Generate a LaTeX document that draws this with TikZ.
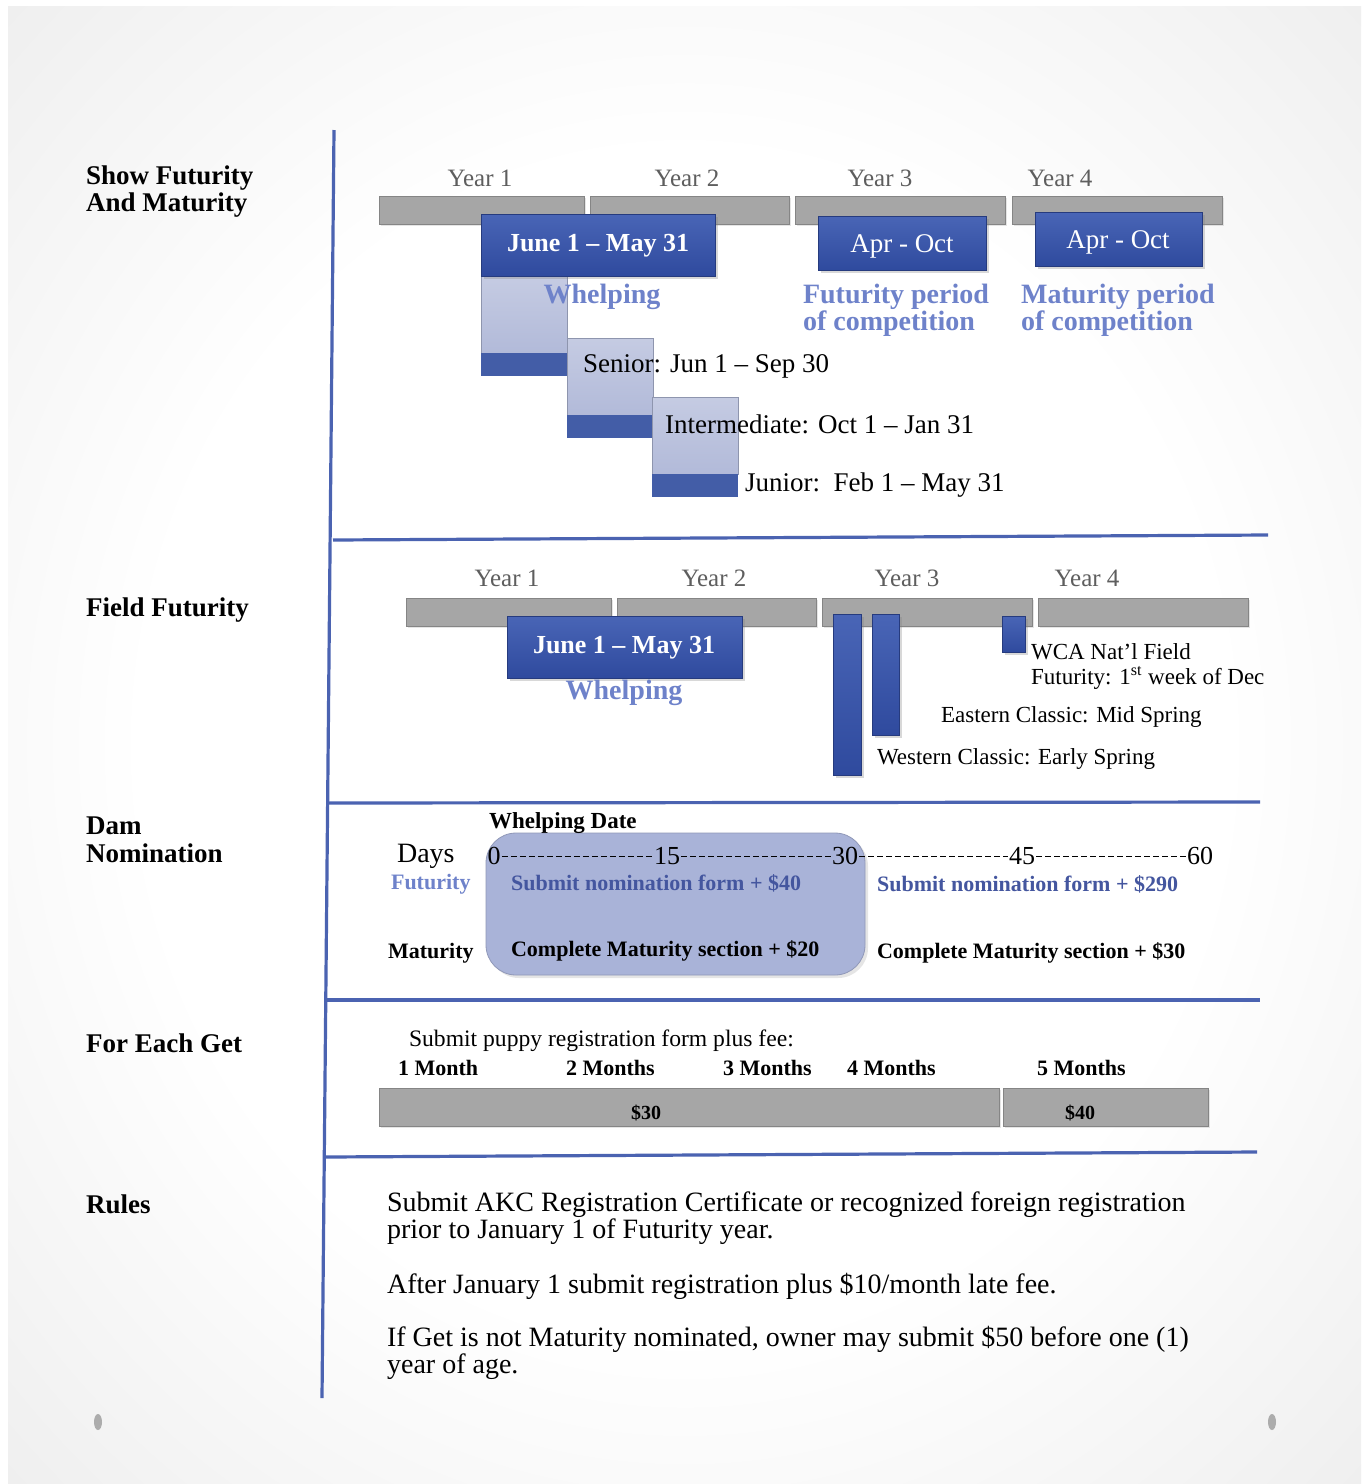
\documentclass[tikz,border=0pt]{standalone}
\usepackage{fontspec}
\setmainfont{Liberation Serif}
\usetikzlibrary{positioning,shadows}

\definecolor{pagegray}{HTML}{D6D6D6}
\definecolor{bargray}{HTML}{A6A6A6}
\definecolor{boxtop}{HTML}{4965B6}
\definecolor{boxbot}{HTML}{2F4A9E}
\definecolor{paleblue}{HTML}{B2BAD9}
\definecolor{lineblue}{HTML}{4B63B1}
\definecolor{textblue}{HTML}{6E82CA}
\definecolor{navytext}{HTML}{44569F}
\definecolor{yeargray}{HTML}{5E5E5E}
\definecolor{nomfill}{HTML}{A9B3D8}

\pgfdeclareradialshading{vignette}{\pgfpoint{0bp}{0bp}}{color(0bp)=(white); color(20bp)=(white); color(42bp)=(gray!18); color(50bp)=(gray!27); color(72bp)=(gray!38)}

\tikzset{
  yearbar/.style={fill=bargray, draw=bargray!80!black, line width=0.3pt,
    drop shadow={opacity=0.2, shadow xshift=1pt, shadow yshift=-1pt}},
  bluebox/.style={top color=boxtop, bottom color=boxbot, draw=boxbot!80!black, line width=0.3pt,
    drop shadow={opacity=0.3, shadow xshift=1.5pt, shadow yshift=-1.5pt}},
  paleblock/.style={top color=paleblue!75!white, bottom color=paleblue, draw=paleblue!80!black, line width=0.3pt},
  darkstrip/.style={fill=boxtop!92!black},
  sepline/.style={lineblue, line width=1.6pt},
  sidelbl/.style={anchor=west, align=left, font=\fontsize{13.5}{13.8}\selectfont\bfseries},
  yearlbl/.style={text=yeargray, font=\fontsize{12.5}{15}\selectfont},
  boxlbl/.style={text=white, font=\fontsize{13}{15}\selectfont\bfseries},
  periodlbl/.style={anchor=west, align=left, text=textblue, font=\fontsize{14}{13.5}\selectfont\bfseries},
  agelbl/.style={anchor=west, font=\fontsize{13.5}{15}\selectfont},
  eventlbl/.style={anchor=west, align=left, font=\fontsize{11.5}{12.5}\selectfont},
  daylbl/.style={inner sep=0.5pt, font=\fontsize{13}{15}\selectfont},
  daysline/.style={dash pattern=on 3pt off 1.5pt, line width=0.5pt},
  feelbl/.style={anchor=west, font=\fontsize{11}{12}\selectfont\bfseries},
  monthlbl/.style={anchor=west, font=\fontsize{11}{13}\selectfont\bfseries},
  rulelbl/.style={anchor=west, align=left, font=\fontsize{14}{13.5}\selectfont}
}

\begin{document}
\begin{tikzpicture}[x=0.5pt, y=-0.5pt]
    \useasboundingbox (0,0) rectangle (1369,1484);
    % page
    \fill[white] (0,0) rectangle (1369,1484);
    \shade[shading=vignette] (8,6) rectangle (1361,1484);
    \fill[gray!65] (98,1422) ellipse (4 and 8);
    \fill[gray!65] (1272,1422) ellipse (4 and 8);

    % frame lines
    \draw[sepline] (334,130) -- (322,1398);
    \draw[sepline] (333,540) -- (1268,535);
    \draw[sepline] (328,803) -- (1260,802);
    \draw[sepline] (327,1000) -- (1260,1000);
    \draw[sepline] (325,1157) -- (1257,1152);

    % row labels
    \node[sidelbl] (show) at (79,191.5) {Show Futurity\\And Maturity};
    \node[sidelbl] (field) at (79,610) {Field Futurity};
    \node[sidelbl] (dam) at (79,840) {Dam\\Nomination};
    \node[sidelbl] (get) at (79,1043) {For Each Get};
    \node[sidelbl] (rules) at (79,1204) {Rules};

    % show futurity and maturity
    \foreach \x/\n in {480/1,687/2,880/3,1060/4} \node[yearlbl] (sy\n) at (\x,178) {Year \n};
    \foreach \a/\b in {379/584,590/789,795/1005,1012/1222} \draw[yearbar] (\a,196) rectangle (\b,224);
    \foreach \a/\t in {481/276,567/338,652/397} {
      \draw[paleblock] (\a,\t) rectangle (\a+86,\t+77);
      \fill[darkstrip] (\a,\t+77) rectangle (\a+86,\t+100);
    }
    \draw[bluebox] (481,214) rectangle (715,276);
    \draw[bluebox] (818,216) rectangle (986,270);
    \draw[bluebox] (1035,212) rectangle (1202,266);
    \node[boxlbl] (sjune) at (598,246) {June 1 – May 31};
    \node[boxlbl, font=\fontsize{13.5}{15}\selectfont] (sapr) at (902,246) {Apr - Oct};
    \node[boxlbl, font=\fontsize{13.5}{15}\selectfont] (mapr) at (1118,242) {Apr - Oct};
    \node[periodlbl, anchor=center] (swhelp) at (602,297) {Whelping};
    \node[periodlbl] (fper) at (796,310.5) {Futurity period\\of competition};
    \node[periodlbl] (mper) at (1014,310.5) {Maturity period\\of competition};
    \node[agelbl] (senior) at (576,366) {Senior: Jun 1 – Sep 30};
    \node[agelbl] (inter) at (658,424) {Intermediate: Oct 1 – Jan 31};
    \node[agelbl] (junior) at (738,485) {Junior:\ \ Feb 1 – May 31};

    % field futurity
    \foreach \x/\n in {507/1,714/2,907/3,1087/4} \node[yearlbl] (fy\n) at (\x,578) {Year \n};
    \foreach \a/\b in {406/611,617/816,822/1032,1038/1248} \draw[yearbar] (\a,598) rectangle (\b,626);
    \draw[bluebox] (507,616) rectangle (742,678);
    \node[boxlbl] (fjune) at (624,648) {June 1 – May 31};
    \node[periodlbl, anchor=center] (fwhelp) at (624,693) {Whelping};
    \draw[bluebox] (833,614) rectangle (861,775);
    \draw[bluebox] (872,614) rectangle (899,735);
    \draw[bluebox] (1002,616) rectangle (1025,652);
    \node[eventlbl] (wca) at (1024,666) {WCA Nat’l Field\\Futurity: 1\textsuperscript{st} week of Dec};
    \node[eventlbl] (east) at (934,717) {Eastern Classic: Mid Spring};
    \node[eventlbl] (west) at (870,759) {Western Classic: Early Spring};

    % dam nomination
    \draw[nomfill!85!black, fill=nomfill, rounded corners=15pt,
      drop shadow={opacity=0.2, shadow xshift=1.5pt, shadow yshift=-1.5pt}] (486,833) rectangle (865,975);
    \node[anchor=west, font=\fontsize{11.5}{13}\selectfont\bfseries] (wdate) at (482,823) {Whelping Date};
    \node[anchor=west, font=\fontsize{14}{15}\selectfont] (days) at (390,856) {Days};
    \foreach \x/\n in {494/0,667/15,845/30,1022/45,1200/60} \node[daylbl] (n\n) at (\x,856) {\n};
    \foreach \a/\b in {n0/n15,n15/n30,n30/n45,n45/n60} \draw[daysline] (\a) -- (\b);
    \node[feelbl, text=textblue] (fut) at (384,884) {Futurity};
    \node[feelbl] (mat) at (381,953) {Maturity};
    \node[feelbl, text=navytext] (fut40) at (504,883) {Submit nomination form + \$40};
    \node[feelbl, text=navytext] (fut290) at (870,884) {Submit nomination form + \$290};
    \node[feelbl] (mat20) at (504,951) {Complete Maturity section + \$20};
    \node[feelbl] (mat30) at (870,953) {Complete Maturity section + \$30};

    % for each get
    \node[anchor=west, font=\fontsize{11.8}{13}\selectfont] (puppy) at (402,1041) {Submit puppy registration form plus fee:};
    \foreach \x/\t in {391/1 Month,559/2 Months,716/3 Months,840/4 Months,1030/5 Months}
      \node[monthlbl] at (\x,1068) {\t};
    \draw[yearbar] (379,1088) rectangle (999,1126);
    \draw[yearbar] (1003,1088) rectangle (1208,1126);
    \node[font=\fontsize{10}{12}\selectfont\bfseries] (fee30) at (646,1113) {\$30};
    \node[font=\fontsize{10}{12}\selectfont\bfseries] (fee40) at (1080,1113) {\$40};

    % rules
    \node[rulelbl] (rule1) at (380,1218.5) {Submit AKC Registration Certificate or recognized foreign registration\\prior to January 1 of Futurity year.};
    \node[rulelbl] (rule2) at (380,1286) {After January 1 submit registration plus \$10/month late fee.};
    \node[rulelbl] (rule3) at (380,1353) {If Get is not Maturity nominated, owner may submit \$50 before one (1)\\year of age.};
\end{tikzpicture}
\end{document}
